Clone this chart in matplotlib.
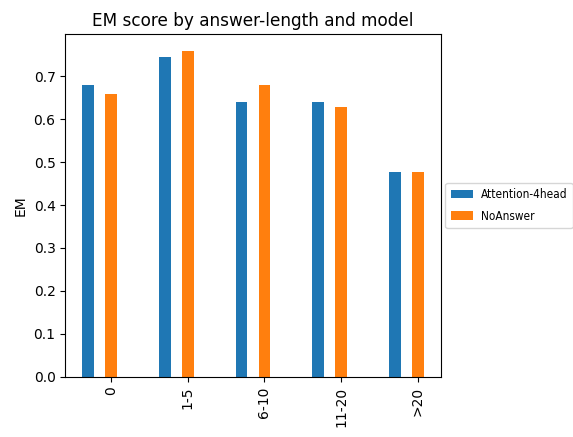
import numpy as np
import matplotlib
matplotlib.use("Agg")
import matplotlib.pyplot as plt

categories = ["0", "1-5", "6-10", "11-20", ">20"]
attention_4head = [0.680, 0.746, 0.640, 0.640, 0.477]
no_answer = [0.658, 0.760, 0.680, 0.628, 0.477]
series_names = ["Attention-4head", "NoAnswer"]

fig = plt.figure(figsize=(5.73, 4.37), dpi=100)
ax = fig.add_axes([0.114, 0.138, 0.655, 0.7835])

x = np.arange(len(categories))
width = 0.15
ax.bar(x - 2 * width, attention_4head, width, color="#1f77b4", label=series_names[0])
ax.bar(x, no_answer, width, color="#ff7f0e", label=series_names[1])

ax.set_xticks(x)
ax.set_xticklabels(categories, rotation=90, fontsize=10)
ax.tick_params(axis="y", labelsize=10)
ax.set_ylabel("EM", fontsize=10)
ax.set_title("EM score by answer-length and model", fontsize=12.2)
leg = ax.legend(loc="center left", bbox_to_anchor=(1.0, 0.5), fontsize=8.5,
                borderpad=0.45, labelspacing=0.7, handletextpad=0.7,
                handlelength=1.85, borderaxespad=0.4)
for t in leg.get_texts():
    t.set_fontstretch("condensed")

fig.savefig("out.png", dpi=100)
